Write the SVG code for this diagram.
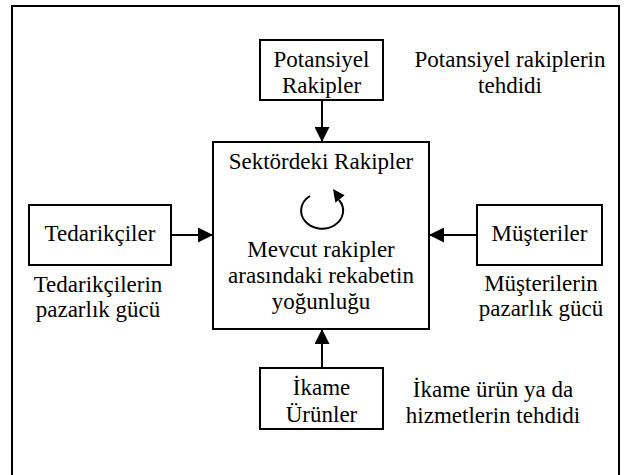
<svg xmlns="http://www.w3.org/2000/svg" width="624" height="475" viewBox="0 0 624 475">
<style>
.box{fill:#fff;stroke:#000;stroke-width:2}
.t{font-family:'Liberation Serif','Times New Roman','DejaVu Serif',serif;font-size:23px;fill:#000;text-anchor:middle}
.ln{stroke:#000;stroke-width:2;fill:none}
</style>
<defs>
<marker id="ah" markerWidth="15" markerHeight="15" viewBox="0 0 15 15" refX="15" refY="7.5" orient="auto" markerUnits="userSpaceOnUse">
<path d="M0,0 L15,7.5 L0,15 Z" fill="#000"/>
</marker>
</defs>
<rect x="0" y="0" width="624" height="475" fill="#fff"/>
<path d="M12,480 L12,6 L619,6 L619,480" class="ln"/>
<g id="connectors">
<line x1="322" y1="100" x2="322" y2="142" class="ln" marker-end="url(#ah)"/>
<line x1="171" y1="235" x2="213" y2="235" class="ln" marker-end="url(#ah)"/>
<line x1="477" y1="235" x2="429" y2="235" class="ln" marker-end="url(#ah)"/>
<line x1="322" y1="368" x2="322" y2="329" class="ln" marker-end="url(#ah)"/>
</g>
<g id="potansiyel">
<rect x="260" y="40" width="123" height="60" class="box"/>
<text x="321.5" y="67" class="t" font-family="Liberation Serif">Potansiyel</text>
<text x="321.5" y="93" class="t">Rakipler</text>
</g>
<g id="potansiyel-label">
<text x="510" y="67" class="t">Potansiyel rakiplerin</text>
<text x="510" y="93" class="t">tehdidi</text>
</g>
<g id="sektor">
<rect x="213" y="142" width="216" height="187" class="box"/>
<text x="321" y="169" class="t">Sektördeki Rakipler</text>
<path d="M310,196 A21,18 0 1 0 339,200" class="ln"/>
<polygon points="333,189 344.6,195.2 335.4,202.8" fill="#000"/>
<text x="321" y="257" class="t">Mevcut rakipler</text>
<text x="321" y="283" class="t">arasındaki rekabetin</text>
<text x="321" y="309" class="t">yoğunluğu</text>
</g>
<g id="tedarikciler">
<rect x="29" y="205" width="142" height="60" class="box"/>
<text x="100" y="241" class="t">Tedarikçiler</text>
</g>
<g id="tedarikciler-label">
<text x="98" y="292" class="t">Tedarikçilerin</text>
<text x="98" y="317" class="t">pazarlık gücü</text>
</g>
<g id="musteriler">
<rect x="477" y="205" width="125" height="60" class="box"/>
<text x="539.5" y="241" class="t">Müşteriler</text>
</g>
<g id="musteriler-label">
<text x="541" y="291" class="t">Müşterilerin</text>
<text x="541" y="316" class="t">pazarlık gücü</text>
</g>
<g id="ikame">
<rect x="260" y="368" width="123" height="61" class="box"/>
<text x="321.5" y="395" class="t">İkame</text>
<text x="321.5" y="422" class="t">Ürünler</text>
</g>
<g id="ikame-label">
<text x="493" y="397" class="t">İkame ürün ya da</text>
<text x="493" y="423" class="t">hizmetlerin tehdidi</text>
</g>
</svg>
